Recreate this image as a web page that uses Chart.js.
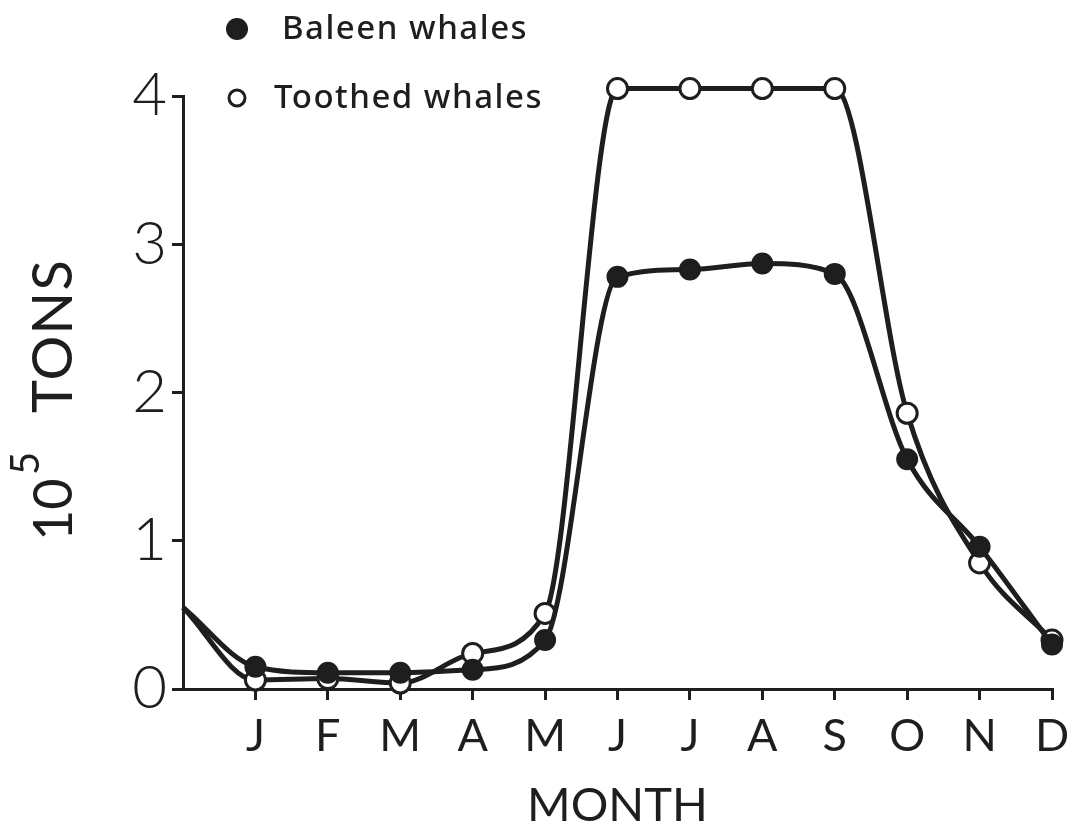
<!DOCTYPE html>
<html>
<head>
<meta charset="utf-8">
<script src="https://cdn.jsdelivr.net/npm/chart.js@4"></script>
<style>
  html, body { margin: 0; padding: 0; background: #fff; }
  #wrap { width: 1072px; height: 838px; }
</style>
</head>
<body>
<div id="wrap"><canvas id="whaleChart"></canvas></div>
<script>
// months along the axis, first slot is the y-axis itself (no label)
const monthLabels = ['', 'J', 'F', 'M', 'A', 'M', 'J', 'J', 'A', 'S', 'O', 'N', 'D'];
const baleen = [0.55, 0.15, 0.11, 0.11, 0.13, 0.33, 2.78, 2.83, 2.87, 2.80, 1.55, 0.96, 0.30];
const toothed = [0.55, 0.06, 0.07, 0.04, 0.24, 0.51, 4.05, 4.05, 4.05, 4.05, 1.86, 0.85, 0.33];
const yTicks = [0, 1, 2, 3, 4];

const ink = '#1e1e1e';
const face = 'Lato, "Noto Sans", sans-serif';

// legend and rotated y title drawn by hand so they sit where the original has them
const decorations = {
  id: 'decorations',
  afterDraw(chart) {
    const ctx = chart.ctx;
    ctx.save();
    ctx.font = '500 33px "Noto Sans", Lato, sans-serif';
    ctx.letterSpacing = '1.5px';
    ctx.textBaseline = 'middle';
    ctx.fillStyle = ink;

    ctx.beginPath();
    ctx.arc(237, 29, 11, 0, Math.PI * 2);
    ctx.fill();
    ctx.fillText(chart.data.datasets[0].label, 282, 30);

    ctx.beginPath();
    ctx.arc(237, 98, 8, 0, Math.PI * 2);
    ctx.lineWidth = 3;
    ctx.strokeStyle = ink;
    ctx.fillStyle = '#fff';
    ctx.fill();
    ctx.stroke();
    ctx.fillStyle = ink;
    ctx.fillText(chart.data.datasets[1].label, 274, 99);
    ctx.restore();

    // y title: 10^5 TONS, reading bottom to top
    ctx.save();
    ctx.translate(72, 541);
    ctx.rotate(-Math.PI / 2);
    ctx.fillStyle = ink;
    ctx.textBaseline = 'alphabetic';
    ctx.font = '400 54px ' + face;
    ctx.fillText('10', 0, 0);
    ctx.font = '400 40px ' + face;
    ctx.fillText('5', 66, -33);
    ctx.font = '400 56px ' + face;
    const w = ctx.measureText('TONS').width;
    ctx.letterSpacing = Math.max(0, (153 - w) / 3) + 'px';
    ctx.fillText('TONS', 128, 0);
    ctx.restore();
  }
};

new Chart(document.getElementById('whaleChart'), {
  type: 'line',
  data: {
    labels: monthLabels,
    datasets: [
      {
        label: 'Baleen whales',
        data: baleen,
        borderColor: ink,
        borderWidth: 5,
        backgroundColor: ink,
        pointBackgroundColor: ink,
        pointBorderColor: ink,
        pointBorderWidth: 2,
        pointRadius: baleen.map((v, i) => i === 0 ? 0 : 10),
        cubicInterpolationMode: 'monotone',
        clip: false
      },
      {
        label: 'Toothed whales',
        data: toothed,
        borderColor: ink,
        borderWidth: 5,
        backgroundColor: '#fff',
        pointBackgroundColor: '#fff',
        pointBorderColor: ink,
        pointBorderWidth: 3,
        pointRadius: toothed.map((v, i) => i === 0 ? 0 : 10),
        cubicInterpolationMode: 'monotone',
        clip: false
      }
    ]
  },
  options: {
    responsive: true,
    maintainAspectRatio: false,
    animation: false,
    layout: { padding: { top: 96, right: 20, left: 0, bottom: 0 } },
    plugins: {
      legend: { display: false },
      tooltip: { enabled: false }
    },
    scales: {
      x: {
        type: 'category',
        offset: false,
        afterFit: (scale) => {
          scale.height = 149;
          scale.paddingRight = 20;
          scale.paddingLeft = 0;
        },
        border: { display: true, color: ink, width: 3 },
        grid: {
          display: true,
          drawOnChartArea: false,
          drawTicks: true,
          tickLength: 11,
          lineWidth: 3,
          color: (c) => c.index === 0 ? 'rgba(0,0,0,0)' : ink
        },
        ticks: {
          autoSkip: false,
          maxRotation: 0,
          padding: 9,
          color: ink,
          font: { family: face, size: 45, weight: 400 }
        },
        title: {
          display: true,
          text: 'MONTH',
          color: ink,
          padding: { top: 0, bottom: 4 },
          font: { family: face, size: 47, weight: 400, lineHeight: 1.2 }
        }
      },
      y: {
        min: 0,
        max: 4,
        afterFit: (scale) => { scale.width = 183; },
        afterBuildTicks: (scale) => { scale.ticks = yTicks.map(v => ({ value: v })); },
        border: { display: true, color: ink, width: 3 },
        grid: {
          display: true,
          drawOnChartArea: false,
          drawTicks: true,
          tickLength: 11,
          lineWidth: 3,
          color: ink
        },
        ticks: {
          padding: 5,
          color: ink,
          font: { family: face, size: 60, weight: 300 }
        },
        title: { display: false }
      }
    }
  },
  plugins: [decorations]
});
</script>
</body>
</html>
